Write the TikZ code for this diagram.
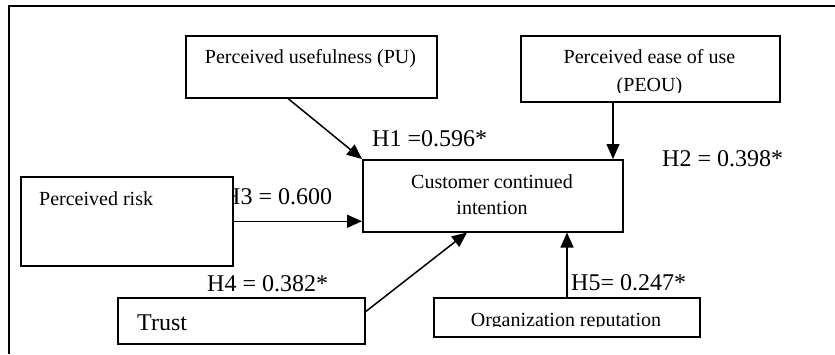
\documentclass[tikz,border=0pt]{standalone}
\usepackage{fontspec}
\setmainfont{Liberation Serif}
\usetikzlibrary{arrows.meta,calc}
\begin{document}
\begin{tikzpicture}[x=1pt,y=-1pt,
  box/.style={draw,line width=1.5pt,fill=white,inner sep=0pt,anchor=north west},
  txt/.style={font=\fontsize{20}{24}\selectfont,inner sep=0pt},
  lbl/.style={font=\fontsize{24}{28}\selectfont,inner sep=0pt,anchor=base west},
  arr/.style={line width=1.5pt,-{Triangle[length=15pt,width=13pt]}},
  frameline/.style={line width=1.5pt}]
\useasboundingbox (0,0) rectangle (835,354);
\draw[frameline] (9,354) -- (9,6) -- (835,6);

% Perceived usefulness
\node[box,minimum width=251pt,minimum height=62pt] (pu) at (185,35) {};
\node[txt,anchor=base] (putxt) at (310.5,63) {Perceived usefulness (PU)};

% Perceived ease of use
\node[box,minimum width=259pt,minimum height=66pt] (peou) at (520,35) {};
\node[txt,anchor=base] (peou1) at (649.5,63) {Perceived ease of use};
\begin{scope}
  \clip (520,35) rectangle (779,92);
  \node[txt,anchor=base] (peou2) at (649.5,91) {(PEOU)};
\end{scope}

% Customer continued intention
\node[box,minimum width=260pt,minimum height=72pt] (cci) at (362,159) {};
\node[txt,anchor=base] (cci1) at (492,188) {Customer continued};
\node[txt,anchor=base] (cci2) at (492,214) {intention};

% H3 label (partly hidden behind the risk box)
\node[lbl] (h3) at (223,204.5) {H3 = 0.600};

% Perceived risk
\node[box,minimum width=212pt,minimum height=89pt] (risk) at (20,176) {};
\node[txt,anchor=base west] (risktxt) at (39,205.5) {Perceived risk};

% Trust
\node[box,minimum width=247pt,minimum height=46pt] (trust) at (117,297) {};
\node[lbl] (trusttxt) at (137,330) {Trust};

% Organization reputation
\node[box,minimum width=266pt,minimum height=39pt] (org) at (433,297) {};
\begin{scope}
  \clip (433,297) rectangle (699,326);
  \node[txt,anchor=base] (orgtxt) at (566,326) {Organization reputation};
\end{scope}

% labels
\node[lbl] (h1) at (372,146) {H1 =0.596*};
\node[lbl] (h2) at (662,166) {H2 = 0.398*};
\node[lbl] (h4) at (207,291) {H4 = 0.382*};
\node[lbl] (h5) at (571,290) {H5= 0.247*};

% arrows
\draw[arr] ([xshift=103pt]pu.south west) -- (cci.north west);
\draw[arr] ([xshift=93pt]peou.south west) -- ([xshift=93pt]peou.south west |- cci.north);
\draw[arr] (risk.east) -- (risk.east -| cci.west);
\draw[arr] ([yshift=9pt]trust.east) -- ([xshift=105pt]cci.south west);
\draw[arr] ([xshift=134pt]org.north west) -- ([xshift=134pt]org.north west |- cci.south);
\end{tikzpicture}
\end{document}
